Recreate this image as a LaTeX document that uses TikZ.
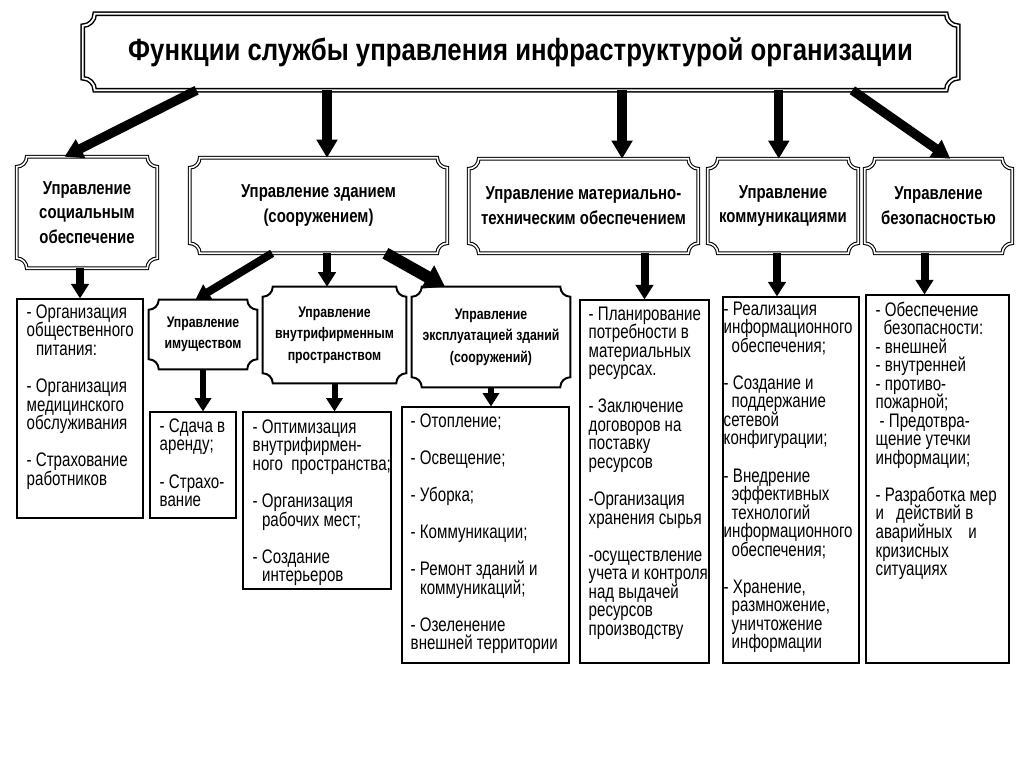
\documentclass[tikz,border=0pt]{standalone}
\usepackage{fontspec}
\setmainfont{Liberation Sans}
\newfontfamily\condfont{Liberation Sans}[FakeStretch=0.77]
\newfontfamily\condbold{Liberation Sans}[FakeStretch=0.8]
\newfontfamily\titlefont{Liberation Sans}[FakeStretch=0.84]
\usetikzlibrary{arrows.meta,calc,fit}
\lineskiplimit=-\maxdimen

\newcommand\plaque[3][]{%
  \draw[#1] let \p1=(#2.south west), \p2=(#2.north east) in
    (\x1+#3,\y2) -- (\x2-#3,\y2) arc[start angle=180,end angle=270,radius=#3]
    -- (\x2,\y1+#3) arc[start angle=90,end angle=180,radius=#3]
    -- (\x1+#3,\y1) arc[start angle=0,end angle=90,radius=#3]
    -- (\x1,\y2-#3) arc[start angle=270,end angle=360,radius=#3] -- cycle;}

\begin{document}
\begin{tikzpicture}[x=0.75pt,y=-0.75pt]
        \tikzstyle{every node}=[inner sep=0pt]
        \tikzstyle{sz}=[minimum width=#1*0.75pt]
        \tikzstyle{ht}=[minimum height=#1*0.75pt]
        \tikzstyle{head}=[align=center,font=\condbold\bfseries\fontsize{14}{18.5}\selectfont]
        \tikzstyle{subhead}=[align=center,font=\condbold\bfseries\fontsize{11.5}{16}\selectfont]
        \tikzstyle{cbox}=[draw,line width=0.8pt]
        \tikzstyle{item}=[align=left,anchor=north west,font=\condfont\fontsize{14.7}{13.9}\selectfont]
        \tikzstyle{dbl}=[draw,double,line width=0.8pt,double distance=1.2pt]
        \tikzstyle{single}=[draw,line width=1.5pt]
        \tikzstyle{arr}=[line width=7pt,-{Triangle[width=15pt,length=13.5pt]}]
        \tikzstyle{arrm}=[line width=6pt,-{Triangle[width=13pt,length=11pt]}]
        \tikzstyle{arrs}=[line width=4.5pt,-{Triangle[width=12pt,length=10pt]}]
        \useasboundingbox (0,0) rectangle (1024,767);

        \node[sz=875,ht=76,font=\titlefont\bfseries\fontsize{23}{27}\selectfont] (title) at (520.5,52) {Функции службы управления инфраструктурой организации};
        \plaque[dbl,line width=1.1pt,double distance=1.4pt]{title}{9pt}

        \node[head,sz=140,ht=111] (soc) at (87,212.5) {Управление\\социальным\\обеспечение};
        \node[head,sz=257,ht=95] (zd) at (318.5,205.5) {Управление зданием\\(сооружением)};
        \node[head,sz=229,ht=94] (mat) at (583.5,206) {Управление материально-\\техническим обеспечением};
        \node[head,sz=150,ht=94] (com) at (783,206) {Управление\\коммуникациями};
        \node[head,sz=147,ht=94] (bez) at (938.5,206) {Управление\\безопасностью};
        \foreach \bx in {soc,zd,mat,com,bez} {\plaque[dbl]{\bx}{7.5pt}}

        \node[subhead,sz=108,ht=69] (im) at (203,334.5) {Управление\\имуществом};
        \node[subhead,sz=143,ht=96] (vn) at (334.5,335) {Управление\\внутрифирменным\\пространством};
        \node[subhead,sz=158,ht=100] (ek) at (491,337) {Управление\\эксплуатацией зданий\\(сооружений)};
        \foreach \bx in {im,vn,ek} {\plaque[single]{\bx}{7.5pt}}

        \node[cbox,fit={(17,299) (143,518)}] (socc) {};
        \node[cbox,fit={(150,412) (236,518)}] (imc) {};
        \node[cbox,fit={(243,412) (391,589)}] (vnc) {};
        \node[cbox,fit={(402,407) (569,663)}] (ekc) {};
        \node[cbox,fit={(580,300) (709,663)}] (matc) {};
        \node[cbox,fit={(723,297) (859,663)}] (comc) {};
        \node[cbox,fit={(866,295) (1009,663)}] (bezc) {};

        \node[item] (soct) at ($(socc.north west)+(10,6)$) {- Организация\\общественного\\\hspace*{7pt}питания:\\ \\- Организация\\медицинского\\обслуживания\\ \\- Страхование\\работников};
        \node[item] (imt) at ($(imc.north west)+(10,7)$) {- Сдача в\\аренду;\\ \\- Страхо-\\вание};
        \node[item] (vnt) at ($(vnc.north west)+(10,8)$) {- Оптимизация\\внутрифирмен-\\ного\ \ пространства;\\ \\- Организация\\\hspace*{7pt}рабочих мест;\\ \\- Создание\\\hspace*{7pt}интерьеров};
        \node[item] (ekt) at ($(ekc.north west)+(9,7)$) {- Отопление;\\ \\- Освещение;\\ \\- Уборка;\\ \\- Коммуникации;\\ \\- Ремонт зданий и\\\hspace*{7pt}коммуникаций;\\ \\- Озеленение\\внешней территории};
        \node[item] (matt) at ($(matc.north west)+(9,7)$) {- Планирование\\потребности в\\материальных\\ресурсах.\\ \\- Заключение\\договоров на\\поставку\\ресурсов\\ \\-Организация\\хранения сырья\\ \\-осуществление\\учета и контроля\\над выдачей\\ресурсов\\производству};
        \node[item] (comt) at ($(comc.north west)+(1,5)$) {- Реализация\\информационного\\\hspace*{6pt}обеспечения;\\ \\- Создание и\\\hspace*{6pt}поддержание\\сетевой\\конфигурации;\\ \\- Внедрение\\\hspace*{6pt}эффективных\\\hspace*{6pt}технологий\\информационного\\\hspace*{6pt}обеспечения;\\ \\- Хранение,\\\hspace*{6pt}размножение,\\\hspace*{6pt}уничтожение\\\hspace*{6pt}информации};
        \node[item] (bezt) at ($(bezc.north west)+(10,7)$) {- Обеспечение\\\hspace*{6pt}безопасности:\\- внешней\\- внутренней\\- противо-\\пожарной;\\\hspace*{3pt}- Предотвра-\\щение утечки\\информации;\\ \\- Разработка мер\\и\hspace*{9pt}действий в\\аварийных\hspace*{12pt}и\\кризисных\\ситуациях};

        \coordinate (t1) at ($(title.south west)!0.13!(title.south east)$);
        \coordinate (t2) at ($(title.south west)!0.279!(title.south east)$);
        \coordinate (t3) at ($(title.south west)!0.616!(title.south east)$);
        \coordinate (t4) at ($(title.south west)!0.795!(title.south east)$);
        \coordinate (t5) at ($(title.south west)!0.879!(title.south east)$);
        \draw[arr] (t1) -- ($(soc.north west)!0.34!(soc.north east)$);
        \draw[arr] (t2) -- (t2 |- zd.north);
        \draw[arr] (t3) -- (t3 |- mat.north);
        \draw[arr] (t4) -- (t4 |- com.north);
        \draw[arr] (t5) -- ($(bez.north west)!0.58!(bez.north east)$);

        \coordinate (c4) at ($(com.south)+(-6,0)$);
        \coordinate (c5) at ($(bez.south)+(-14,0)$);
        \draw[arrm] (soc.south -| socc.north) -- (socc.north);
        \draw[arrm] (mat.south -| matc.north) -- (matc.north);
        \draw[arrm] (c4) -- (c4 |- comc.north);
        \draw[arrm] (c5) -- (c5 |- bezc.north);

        \draw[arrm] ($(zd.south west)!0.32!(zd.south east)$) -- ($(im.north west)!0.43!(im.north east)$);
        \draw[arrm] (t2 |- zd.south) -- (t2 |- vn.north);
        \draw[arr,line width=9pt,-{Triangle[width=19pt,length=15pt]}] ($(zd.south west)!0.76!(zd.south east)$) -- ($(ek.north west)!0.21!(ek.north east)$);

        \draw[arrs] (im.south) -- (im.south |- imc.north);
        \draw[arrs] (vn.south) -- (vn.south |- vnc.north);
        \draw[arrs] (ek.south) -- (ek.south |- ekc.north);
    \end{tikzpicture}
\end{document}
